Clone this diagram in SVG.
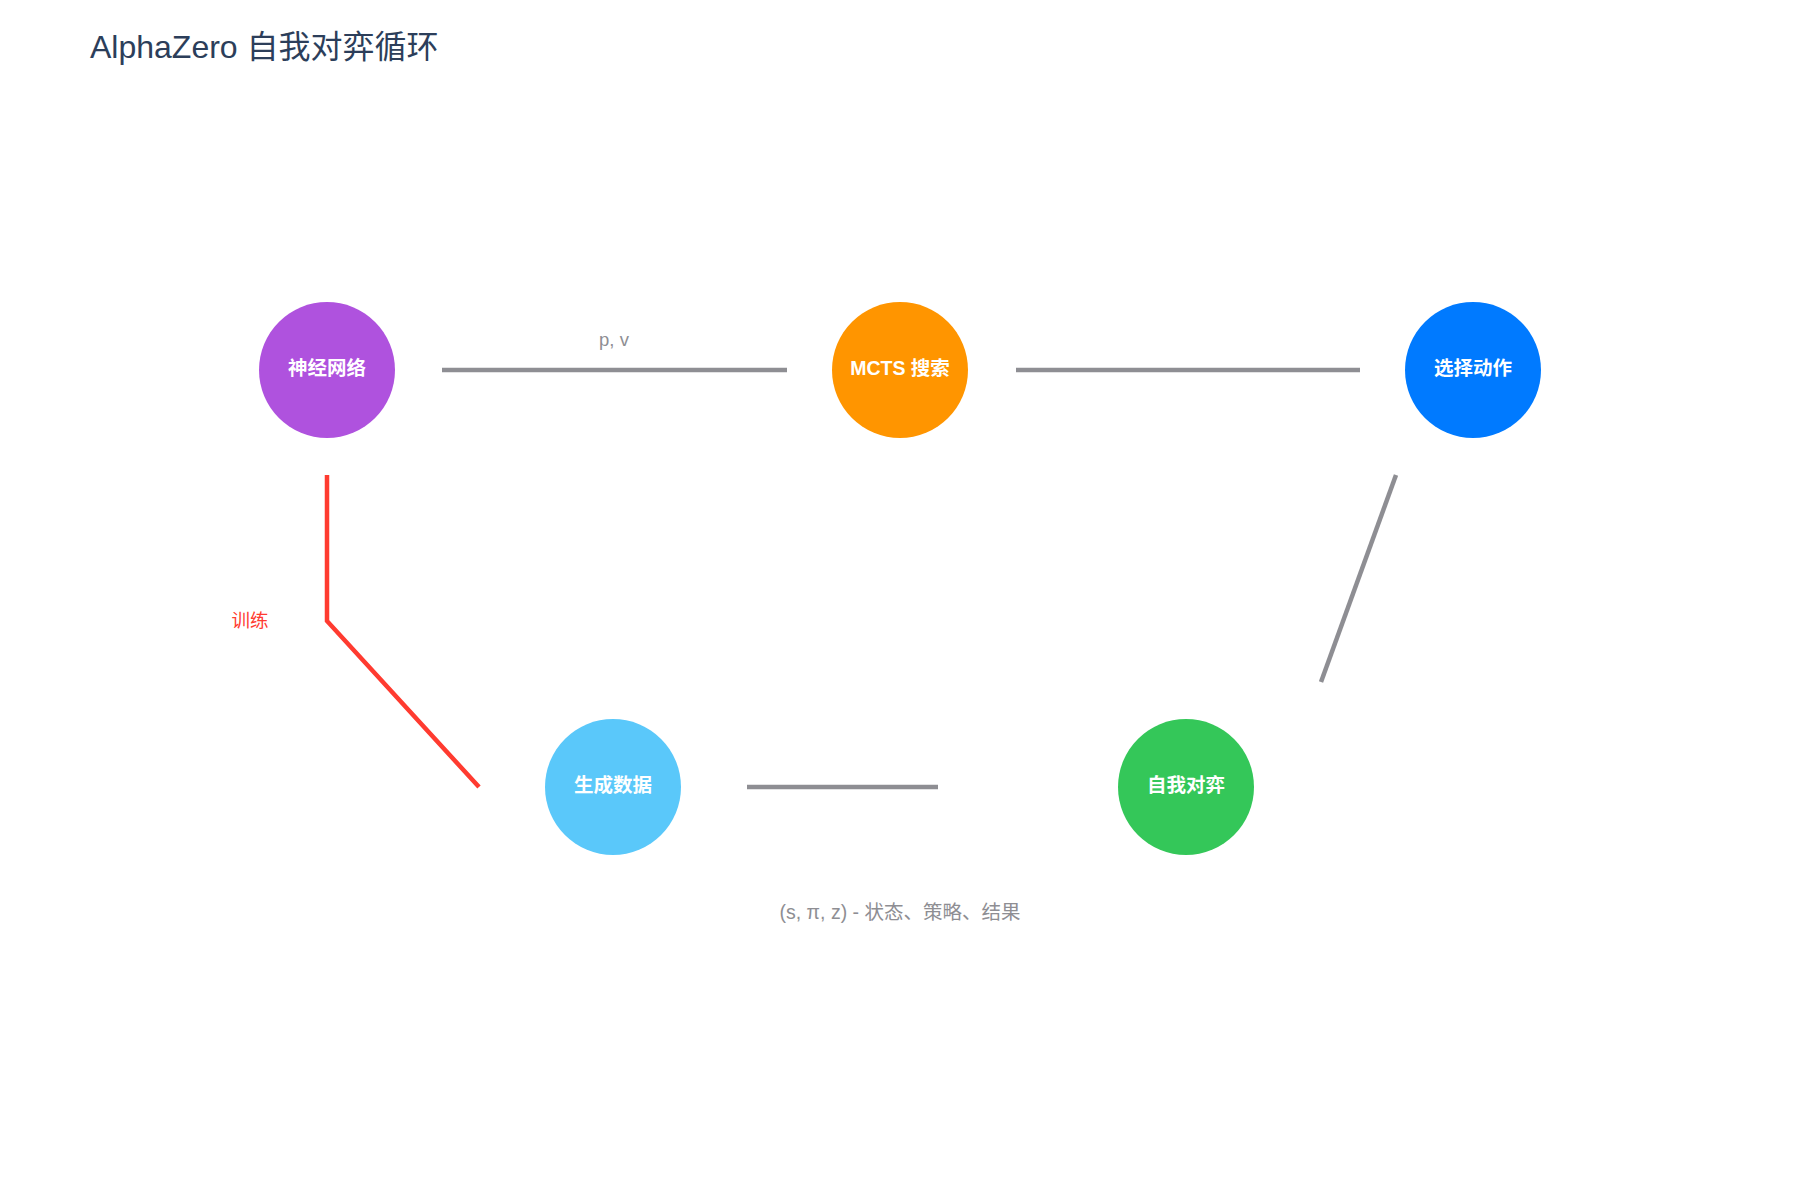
<svg xmlns="http://www.w3.org/2000/svg" width="1800" height="1200" viewBox="0 0 1800 1200">
<style>
text{font-family:"Liberation Sans","Noto Sans CJK SC",sans-serif}
.title{font-size:32px;fill:#2c3e5a}
.nl{font-size:19.5px;font-weight:600;fill:#ffffff;text-anchor:middle}
.el{font-size:18.5px;fill:#8e8e93;text-anchor:middle}
.edge{stroke:#8e8e93;stroke-width:4.5;fill:none}
.red{stroke:#ff3b30;stroke-width:4.5;fill:none}
</style>
<rect width="1800" height="1200" fill="#ffffff"/>
<text class="title" x="90" y="58">AlphaZero 自我对弈循环</text>
<g id="connectors">
<line class="edge" x1="442" y1="370" x2="787" y2="370"/>
<text class="el" x="614" y="346">p, v</text>
<line class="edge" x1="1016" y1="370" x2="1360" y2="370"/>
<line class="edge" x1="1396" y1="475" x2="1321" y2="682"/>
<line class="edge" x1="938" y1="787" x2="747" y2="787"/>
<text class="el" x="900" y="919" style="font-size:19.5px">(s, π, z) - 状态、策略、结果</text>
<polyline class="red" points="479,787 327,621 327,475"/>
<text class="el" x="250" y="627" style="fill:#ff3b30">训练</text>
</g>
<g id="node-nn"><circle cx="327" cy="370" r="68" fill="#af52de"/><text class="nl" x="327" y="375">神经网络</text></g>
<g id="node-mcts"><circle cx="900" cy="370" r="68" fill="#ff9500"/><text class="nl" x="900" y="375">MCTS 搜索</text></g>
<g id="node-action"><circle cx="1473" cy="370" r="68" fill="#007aff"/><text class="nl" x="1473" y="375">选择动作</text></g>
<g id="node-data"><circle cx="613" cy="787" r="68" fill="#5ac8fa"/><text class="nl" x="613" y="792">生成数据</text></g>
<g id="node-selfplay"><circle cx="1186" cy="787" r="68" fill="#34c759"/><text class="nl" x="1186" y="792">自我对弈</text></g>
</svg>
